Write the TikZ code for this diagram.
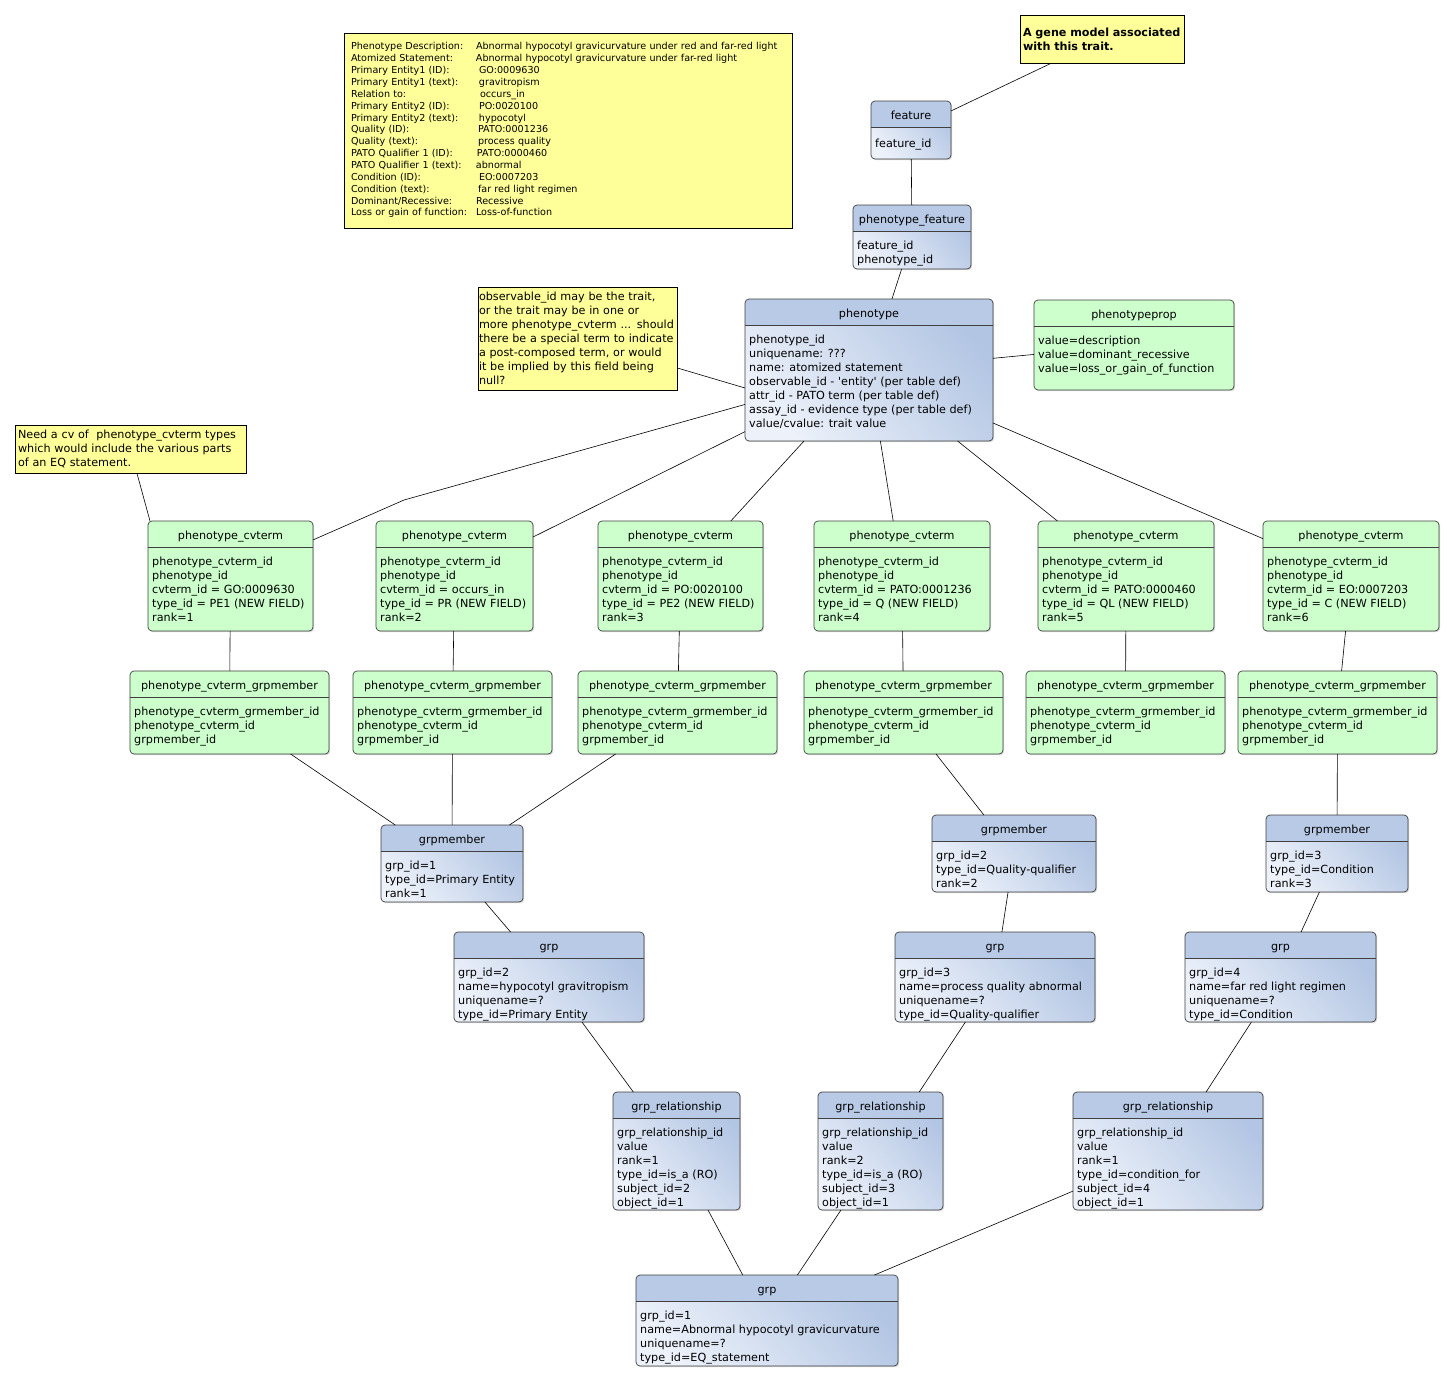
\documentclass[tikz,border=0pt]{standalone}
\usepackage{fontspec}
\setmainfont{DejaVu Sans}
\usetikzlibrary{shadows}
\definecolor{entdark}{RGB}{178,197,227}
\definecolor{entlight}{RGB}{236,241,250}
\definecolor{enthdr}{RGB}{184,202,230}
\definecolor{entgrn}{RGB}{204,255,204}
\definecolor{notey}{RGB}{255,255,153}
\newcommand{\entfont}{\fontsize{11.2pt}{14pt}\selectfont}
\newcommand{\notefont}{\fontsize{11.2pt}{14pt}\selectfont}
\newcommand{\specfont}{\fontsize{9.6pt}{11.86pt}\selectfont}
\newcommand{\hdrband}[1]{%
  \fill[fill=#1, sharp corners] (path picture bounding box.north west) rectangle ([yshift=-26pt]path picture bounding box.north east);
  \draw[black!75, line width=0.7pt] ([yshift=-26pt]path picture bounding box.north west) -- ([yshift=-26pt]path picture bounding box.north east);}
\tikzset{
  ent/.style={draw=black!75, line width=0.7pt, rounded corners=4pt, inner sep=0pt, outer sep=0pt,
    drop shadow={shadow xshift=1.2pt, shadow yshift=-1.2pt, opacity=0.3}},
  blueent/.style={ent, bottom color=entlight, top color=entdark, shading angle=-50, path picture={\hdrband{enthdr}}},
  greenent/.style={ent, fill=entgrn, path picture={\hdrband{entgrn}}},
  enttitle/.style={anchor=base, inner sep=0pt, font=\entfont},
  entbody/.style={anchor=north west, inner sep=0pt, align=left, font=\entfont, execute at begin node=\strut},
  note/.style={draw=black, line width=0.8pt, fill=notey, inner ysep=0pt, align=left, font=\notefont},
  conn/.style={line width=0.6pt}
}
\newcommand{\entity}[8]{%
  \pgfmathsetmacro{\entw}{#5-#3}\pgfmathsetmacro{\enth}{#6-#4}%
  \node[#2, minimum width=\entw pt, minimum height=\enth pt] (#1) at ({(#3+#5)/2},{(#4+#6)/2}) {};
  \node[enttitle] at ([yshift=-18pt]#1.north) {#7};
  \node[entbody] at ([shift={(4pt,-36pt)}]#1.north west) {#8};
}

\begin{document}
\begin{tikzpicture}[x=1pt,y=-1pt]
\fill[white] (0,0) rectangle (1454,1382);
\useasboundingbox (0,0) rectangle (1454,1382);

\node[note, inner xsep=7pt, text width=434pt, minimum height=195pt, font=\specfont] (spec) at (568,130.5) {%
  \begin{tabular}{@{}p{125pt}@{}l@{}}
  Phenotype Description: & Abnormal hypocotyl gravicurvature under red and far-red light\\
  Atomized Statement: & Abnormal hypocotyl gravicurvature under far-red light\\
  Primary Entity1 (ID): & \hspace{3pt}GO:0009630\\
  Primary Entity1 (text): & \hspace{3pt}gravitropism\\
  Relation to: & \hspace{4pt}occurs\_in\\
  Primary Entity2 (ID): & \hspace{3pt}PO:0020100\\
  Primary Entity2 (text): & \hspace{3pt}hypocotyl\\
  Quality (ID): & \hspace{2pt}PATO:0001236\\
  Quality (text): & \hspace{2pt}process quality\\
  PATO Qualifier 1 (ID): & \hspace{1pt}PATO:0000460\\
  PATO Qualifier 1 (text): & abnormal\\
  Condition (ID): & \hspace{3pt}EO:0007203\\
  Condition (text): & \hspace{2pt}far red light regimen\\
  Dominant/Recessive: & Recessive\\
  Loss or gain of function: & Loss-of-function
  \end{tabular}};
\node[note, inner xsep=3pt, text width=158pt, minimum height=48pt, font=\notefont\bfseries] (gene) at (1102,39) {A gene model associated\\with this trait.};
\node[note, inner xsep=1pt, text width=197pt, minimum height=103pt] (obsnote) at (577.5,338.5) {observable\_id may be the trait,\\or the trait may be in one or\\more phenotype\_cvterm ... should\\there be a special term to indicate\\a post-composed term, or would\\it be implied by this field being\\null?};
\node[note, inner xsep=3pt, text width=225pt, minimum height=48pt] (cvnote) at (130.5,449) {Need a cv of\ \ phenotype\_cvterm types\\which would include the various parts\\of an EQ statement.};

\entity{feature}{blueent}{871}{101}{951}{159}{feature}{feature\_id}
\entity{phenfeat}{blueent}{853}{205}{971}{269}{phenotype\_feature}{feature\_id\\phenotype\_id}
\entity{phen}{blueent}{745}{299}{993}{441}{phenotype}{phenotype\_id\\uniquename: ???\\name: atomized statement\\observable\_id - \textquotesingle entity\textquotesingle{} (per table def)\\attr\_id - PATO term (per table def)\\assay\_id - evidence type (per table def)\\value/cvalue: trait value}
\entity{pprop}{greenent}{1034}{300}{1234}{390}{phenotypeprop}{value=description\\value=dominant\_recessive\\value=loss\_or\_gain\_of\_function}

\foreach \i/\xa/\xb/\cv/\ty in {1/148/313/GO:0009630/PE1, 2/376/533/occurs\_in/PR, 3/598/763/PO:0020100/PE2, 4/814/990/PATO:0001236/Q, 5/1038/1214/PATO:0000460/QL, 6/1263/1439/EO:0007203/C}
  {\entity{cv\i}{greenent}{\xa}{521}{\xb}{631}{phenotype\_cvterm}{phenotype\_cvterm\_id\\phenotype\_id\\cvterm\_id = \cv\\type\_id = \ty\ (NEW FIELD)\\rank=\i}}
\foreach \i/\xa/\xb in {1/130/329, 2/353/552, 3/578/777, 4/804/1003, 5/1026/1225, 6/1238/1437}
  {\entity{gl\i}{greenent}{\xa}{671}{\xb}{754}{phenotype\_cvterm\_grpmember}{phenotype\_cvterm\_grmember\_id\\phenotype\_cvterm\_id\\grpmember\_id}}

\entity{gm1}{blueent}{381}{825}{523}{902}{grpmember}{grp\_id=1\\type\_id=Primary Entity\\rank=1}
\entity{gm2}{blueent}{932}{815}{1096}{892}{grpmember}{grp\_id=2\\type\_id=Quality-qualifier\\rank=2}
\entity{gm3}{blueent}{1266}{815}{1408}{892}{grpmember}{grp\_id=3\\type\_id=Condition\\rank=3}

\entity{grp2}{blueent}{454}{932}{644}{1022}{grp}{grp\_id=2\\name=hypocotyl gravitropism\\uniquename=?\\type\_id=Primary Entity}
\entity{grp3}{blueent}{895}{932}{1095}{1022}{grp}{grp\_id=3\\name=process quality abnormal\\uniquename=?\\type\_id=Quality-qualifier}
\entity{grp4}{blueent}{1185}{932}{1376}{1022}{grp}{grp\_id=4\\name=far red light regimen\\uniquename=?\\type\_id=Condition}

\entity{rel1}{blueent}{613}{1092}{740}{1210}{grp\_relationship}{grp\_relationship\_id\\value\\rank=1\\type\_id=is\_a (RO)\\subject\_id=2\\object\_id=1}
\entity{rel2}{blueent}{818}{1092}{943}{1210}{grp\_relationship}{grp\_relationship\_id\\value\\rank=2\\type\_id=is\_a (RO)\\subject\_id=3\\object\_id=1}
\entity{rel3}{blueent}{1073}{1092}{1263}{1210}{grp\_relationship}{grp\_relationship\_id\\value\\rank=1\\type\_id=condition\_for\\subject\_id=4\\object\_id=1}

\entity{grp1}{blueent}{636}{1275}{898}{1366}{grp}{grp\_id=1\\name=Abnormal hypocotyl gravicurvature\\uniquename=?\\type\_id=EQ\_statement}

\coordinate (bend) at (404,500);
\draw[conn] (gene) -- (feature);
\draw[conn] (feature) -- (phenfeat);
\draw[conn] (phenfeat) -- (phen);
\draw[conn] ([yshift=-29.5pt]obsnote.east) -- ([yshift=-18pt]phen.west);
\draw[conn] (pprop) -- (phen);
\draw[conn] ([xshift=6.5pt]cvnote.south) -- ([xshift=2pt]cv1.north west);
\draw[conn] (phen) -- (bend) -- (cv1);
\foreach \i in {2,...,6} \draw[conn] (phen) -- (cv\i);
\foreach \i in {1,...,6} \draw[conn] (cv\i) -- (gl\i);
\foreach \i in {1,2,3} \draw[conn] (gl\i) -- (gm1);
\draw[conn] (gl4) -- (gm2);
\draw[conn] (gl6) -- (gm3);
\draw[conn] (gm1) -- (grp2);
\draw[conn] (gm2) -- (grp3);
\draw[conn] (gm3) -- (grp4);
\draw[conn] (grp2) -- (rel1);
\draw[conn] (grp3) -- (rel2);
\draw[conn] (grp4) -- (rel3);
\foreach \i in {1,2,3} \draw[conn] (rel\i) -- (grp1);
\end{tikzpicture}
\end{document}
